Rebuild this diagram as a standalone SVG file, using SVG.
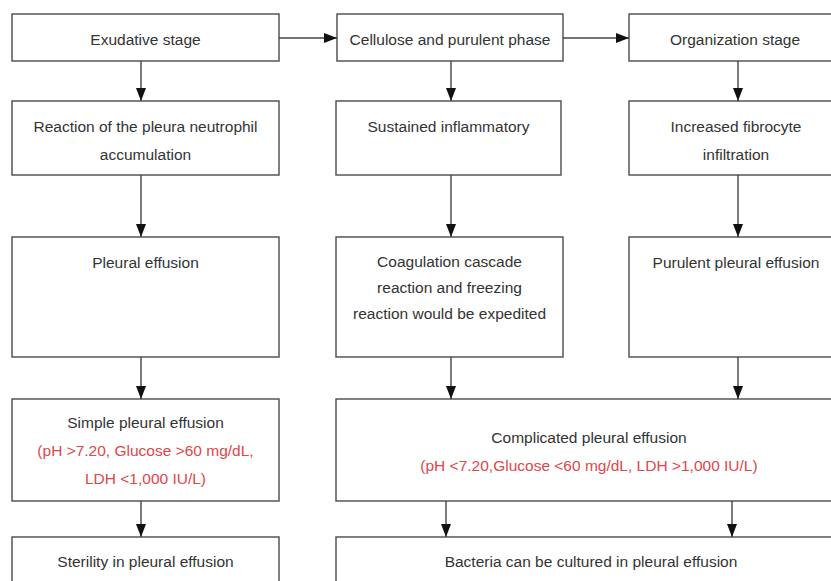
<svg xmlns="http://www.w3.org/2000/svg" width="831" height="581" viewBox="0 0 831 581">
<style>
.box{fill:#fff;stroke:#4a4a4a;stroke-width:1.4}
.t{font-family:"Liberation Sans",Arial,sans-serif;font-size:15.5px;fill:#333;text-anchor:middle}
.r{fill:#e0464a}
.c{stroke:#444;stroke-width:1.4;fill:none;marker-end:url(#ah)}
</style>
<defs>
<marker id="ah" viewBox="0 0 13 10" refX="13" refY="5" markerWidth="13" markerHeight="10" markerUnits="userSpaceOnUse" orient="auto">
<path d="M0,0 L13,5 L0,10 z" fill="#111"/>
</marker>
</defs>
<rect width="831" height="581" fill="#fff"/>
<g id="exudative"><rect class="box" x="12" y="14" width="267" height="47"/><text class="t" x="145.5" y="45">Exudative stage</text></g>
<g id="cellulose"><rect class="box" x="337" y="14" width="226" height="47"/><text class="t" x="450" y="45">Cellulose and purulent phase</text></g>
<g id="organization"><rect class="box" x="629" y="14" width="212" height="47"/><text class="t" x="735" y="45">Organization stage</text></g>
<g id="reaction"><rect class="box" x="12" y="101" width="267" height="74"/><text class="t" x="145.5" y="132">Reaction of the pleura neutrophil</text><text class="t" x="145.5" y="160">accumulation</text></g>
<g id="sustained"><rect class="box" x="336" y="101" width="225" height="74"/><text class="t" x="448.5" y="132">Sustained inflammatory</text></g>
<g id="fibrocyte"><rect class="box" x="629" y="101" width="212" height="74"/><text class="t" x="736" y="132">Increased fibrocyte</text><text class="t" x="736" y="160">infiltration</text></g>
<g id="pleural"><rect class="box" x="12" y="237" width="267" height="120"/><text class="t" x="145.5" y="268">Pleural effusion</text></g>
<g id="coagulation"><rect class="box" x="336" y="237" width="227" height="120"/><text class="t" x="449.5" y="267">Coagulation cascade</text><text class="t" x="449.5" y="293">reaction and freezing</text><text class="t" x="449.5" y="319">reaction would be expedited</text></g>
<g id="purulent"><rect class="box" x="629" y="237" width="212" height="120"/><text class="t" x="736" y="268">Purulent pleural effusion</text></g>
<g id="simple"><rect class="box" x="12" y="399" width="267" height="102"/><text class="t" x="145.5" y="428">Simple pleural effusion</text><text class="t r" x="145.5" y="456">(pH &gt;7.20, Glucose &gt;60 mg/dL,</text><text class="t r" x="145.5" y="484">LDH &lt;1,000 IU/L)</text></g>
<g id="complicated"><rect class="box" x="336" y="399" width="506" height="102"/><text class="t" x="589" y="443">Complicated pleural effusion</text><text class="t r" x="589" y="471">(pH &lt;7.20,Glucose &lt;60 mg/dL, LDH &gt;1,000 IU/L)</text></g>
<g id="sterility"><rect class="box" x="12" y="537" width="267" height="60"/><text class="t" x="145.5" y="567">Sterility in pleural effusion</text></g>
<g id="bacteria"><rect class="box" x="336" y="537" width="506" height="60"/><text class="t" x="591" y="567">Bacteria can be cultured in pleural effusion</text></g>
<g id="connectors">
<path class="c" d="M279,38 H337"/>
<path class="c" d="M563,38 H629"/>
<path class="c" d="M141,61 V101"/>
<path class="c" d="M451,61 V101"/>
<path class="c" d="M738,61 V101"/>
<path class="c" d="M141,175 V237"/>
<path class="c" d="M451,175 V237"/>
<path class="c" d="M738,175 V237"/>
<path class="c" d="M141,357 V399"/>
<path class="c" d="M451,357 V399"/>
<path class="c" d="M738,357 V399"/>
<path class="c" d="M141,501 V537"/>
<path class="c" d="M446,501 V537"/>
<path class="c" d="M732,501 V537"/>
</g>
</svg>
